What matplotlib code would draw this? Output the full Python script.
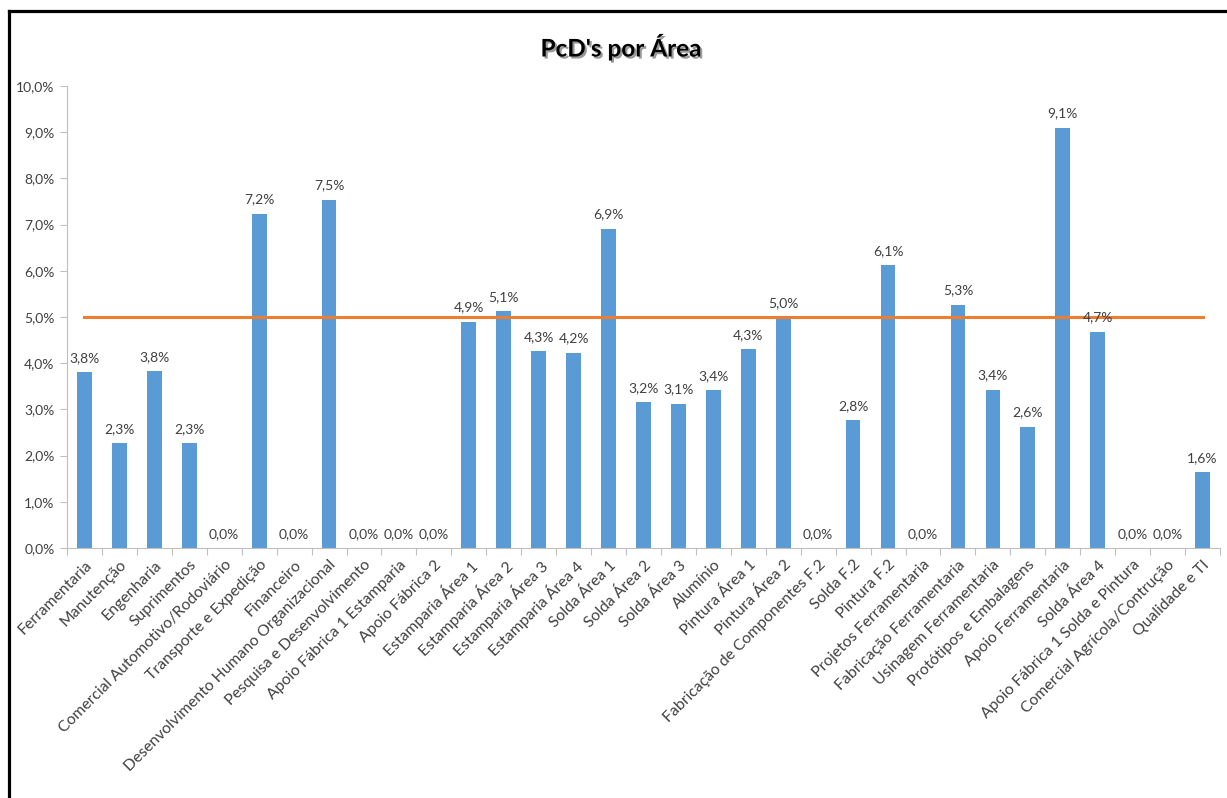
import numpy as np
import matplotlib
matplotlib.use('Agg')
import matplotlib.pyplot as plt
import matplotlib.patheffects as pe
from matplotlib.lines import Line2D

plt.rcParams['font.family'] = ['Lato', 'DejaVu Sans']

areas = ['Ferramentaria', 'Manutenção', 'Engenharia', 'Suprimentos',
         'Comercial Automotivo/Rodoviário', 'Transporte e Expedição', 'Financeiro',
         'Desenvolvimento Humano Organizacional', 'Pesquisa e Desenvolvimento',
         'Apoio Fábrica 1 Estamparia', 'Apoio Fábrica 2', 'Estamparia Área 1',
         'Estamparia Área 2', 'Estamparia Área 3', 'Estamparia Área 4', 'Solda Área 1',
         'Solda Área 2', 'Solda Área 3', 'Alumínio', 'Pintura Área 1', 'Pintura Área 2',
         'Fabricação de Componentes F.2', 'Solda F.2', 'Pintura F.2',
         'Projetos Ferramentaria', 'Fabricação Ferramentaria', 'Usinagem Ferramentaria',
         'Protótipos e Embalagens', 'Apoio Ferramentaria', 'Solda Área 4',
         'Apoio Fábrica 1 Solda e Pintura', 'Comercial Agrícola/Contrução', 'Qualidade e TI']
pcd = [3.8, 2.27, 3.83, 2.27, 0.0, 7.23, 0.0, 7.54, 0.0, 0.0, 0.0, 4.9,
       5.12, 4.26, 4.23, 6.91, 3.16, 3.12, 3.41, 4.3, 4.98, 0.0, 2.77, 6.12,
       0.0, 5.26, 3.43, 2.62, 9.1, 4.68, 0.0, 0.0, 1.64]
meta = 5.0

fig = plt.figure(figsize=(12.27, 7.98), dpi=100)
ax = fig.add_axes([67 / 1227, 1 - 548 / 798, (1220 - 67) / 1227, (548 - 86) / 798])

x = np.arange(len(areas))
ax.bar(x, pcd, width=0.42, color='#5B9BD5', zorder=2)
ax.plot([x[0], x[-1]], [meta, meta], color='#ED7D31', lw=2.2, zorder=3)

for xi, v in zip(x, pcd):
    ax.annotate(f'{v:.1f}%'.replace('.', ','), (xi, v), xytext=(0, 6),
                textcoords='offset points', ha='center', va='bottom',
                fontsize=10, color='#404040', zorder=4)

ax.set_xlim(-0.5, len(areas) - 0.5)
ax.set_ylim(0, 10)
ax.set_yticks(np.arange(0, 11, 1))
ax.set_yticklabels([f'{t:.1f}%'.replace('.', ',') for t in range(11)],
                   fontsize=10, color='#404040')
ax.set_xticks(x)
ax.set_xticklabels(areas, rotation=45, ha='right', rotation_mode='anchor',
                   fontsize=11.3, color='#404040')
ax.tick_params(axis='x', length=0, pad=7)
ax.set_xticks(np.arange(-0.5, len(areas), 1), minor=True)
ax.tick_params(axis='x', which='minor', length=5, color='#BFBFBF', width=0.8)
ax.tick_params(axis='y', length=5, color='#BFBFBF', width=0.8, pad=4)

for s in ['top', 'right']:
    ax.spines[s].set_visible(False)
for s in ['left', 'bottom']:
    ax.spines[s].set_color('#BFBFBF')
    ax.spines[s].set_linewidth(0.8)

fig.text(0.506, 1 - 47 / 798, "PcD's por Área", ha='center', va='center',
         fontsize=17.5, fontweight='bold', color='black',
         path_effects=[pe.SimplePatchShadow(offset=(1.5, -1.5), alpha=0.4), pe.Normal()])

# frame (top and left only)
fig.add_artist(Line2D([8.5 / 1227, 1], [1 - 10.5 / 798] * 2, color='black', lw=2.3,
                      transform=fig.transFigure))
fig.add_artist(Line2D([8.5 / 1227] * 2, [0, 1 - 10.5 / 798], color='black', lw=2.3,
                      transform=fig.transFigure))

fig.savefig('out.png', dpi=100)
